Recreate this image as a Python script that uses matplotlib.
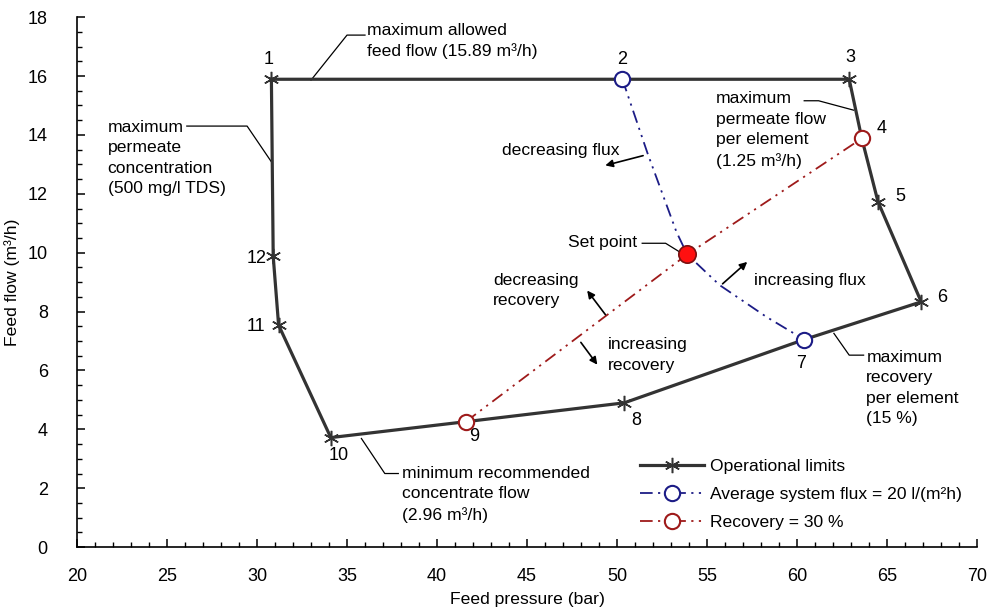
import matplotlib
matplotlib.use('Agg')
import matplotlib.pyplot as plt
from matplotlib.lines import Line2D
from matplotlib.ticker import MultipleLocator

plt.rcParams['font.family'] = ['Liberation Sans', 'DejaVu Sans']

# operational limits, points 1..12 (feed pressure in bar, feed flow in m3/h)
limit_p = [30.8, 50.3, 62.9, 63.6, 64.5, 66.9, 60.4, 50.4, 41.6, 34.1, 31.2, 30.9]
limit_q = [15.89, 15.89, 15.89, 13.88, 11.73, 8.33, 7.05, 4.90, 4.26, 3.72, 7.54, 9.88]
limit_names = ['1', '2', '3', '4', '5', '6', '7', '8', '9', '10', '11', '12']
star_idx = [0, 2, 4, 5, 7, 9, 10, 11]

# average system flux = 20 l/(m2h), from point 2 through set point to point 7
flux_p = [50.3, 51.7, 53.3, 53.9, 55.7, 58.3, 60.4]
flux_q = [15.89, 13.37, 10.71, 9.94, 8.90, 7.82, 7.05]

# recovery = 30 %, from point 9 through set point to point 4
rec_p = [41.6, 53.9, 63.6]
rec_q = [4.26, 9.94, 13.88]

set_p = 53.9
set_q = 9.94

# label offsets (points) for each numbered point
label_off = [(-2, 14), (0, 14), (1, 16), (14, 7), (16, 4), (15, 3),
             (-2, -17), (9, -13), (6, -11), (6, -13), (-16, -1), (-12, -2)]

dark = '#333333'
blue = '#1c1c86'
red = '#9e1a1a'
ddot = (0, (7, 3, 1.2, 3, 1.2, 3))

fig = plt.figure(figsize=(10, 6.12), dpi=100)
ax = fig.add_axes([0.077, 0.106, 0.9, 0.866])

# operational limits (closed polygon)
ax.plot(limit_p + limit_p[:1], limit_q + limit_q[:1], color=dark, lw=2.3, zorder=3,
        solid_joinstyle='round')
ax.plot([limit_p[i] for i in star_idx], [limit_q[i] for i in star_idx], ls='none',
        marker=(6, 2, 0), ms=11, mew=1.1, color=dark, zorder=4)

ax.plot(flux_p, flux_q, color=blue, lw=1.3, ls=ddot, zorder=2)
ax.plot([flux_p[0], flux_p[-1]], [flux_q[0], flux_q[-1]], ls='none', marker='o',
        ms=11, mew=1.5, mfc='white', mec=blue, zorder=5)

ax.plot(rec_p, rec_q, color=red, lw=1.3, ls=ddot, zorder=2)
ax.plot([rec_p[0], rec_p[-1]], [rec_q[0], rec_q[-1]], ls='none', marker='o',
        ms=11, mew=1.5, mfc='white', mec=red, zorder=5)

ax.plot([set_p], [set_q], ls='none', marker='o', ms=12.5, mfc='#ff1010', mec='#7a1010',
        mew=1.2, zorder=6)

for name, p, q, off in zip(limit_names, limit_p, limit_q, label_off):
    ax.annotate(name, (p, q), xytext=off, textcoords='offset points',
                ha='center', va='center', fontsize=13)

# leader lines with notes
fs = 12.6
ls_ = 1.45
lk = dict(color='black', lw=0.9, zorder=1)

ax.plot([33.0, 35.0, 36.0], [15.86, 17.39, 17.39], **lk)
ax.text(36.1, 17.19, 'maximum allowed\nfeed flow (15.89 m³/h)', fontsize=fs,
        va='center', linespacing=ls_)

ax.plot([26.1, 29.45, 30.85], [14.30, 14.30, 13.04], **lk)
ax.text(21.7, 13.21, 'maximum\npermeate\nconcentration\n(500 mg/l TDS)', fontsize=fs,
        va='center', linespacing=ls_)

ax.plot([60.4, 61.2, 63.15], [15.16, 15.16, 14.84], **lk)
ax.text(55.5, 14.16, 'maximum\npermeate flow\nper element\n(1.25 m³/h)', fontsize=fs,
        va='center', linespacing=ls_)

ax.plot([51.4, 52.7, 53.6], [10.32, 10.32, 9.98], **lk)
ax.text(51.1, 10.33, 'Set point', fontsize=fs, va='center', ha='right')

ax.plot([62.05, 62.9, 63.7], [7.26, 6.52, 6.52], **lk)
ax.text(63.85, 5.40, 'maximum\nrecovery\nper element\n(15 %)', fontsize=fs,
        va='center', linespacing=ls_)

ax.plot([35.8, 37.1, 37.85], [3.69, 2.50, 2.50], **lk)
ax.text(38.05, 1.80, 'minimum recommended\nconcentrate flow\n(2.96 m³/h)', fontsize=fs,
        va='center', linespacing=ls_)

# direction arrows
ak = dict(arrowstyle='-|>', color='black', lw=1.2, mutation_scale=11)
ax.annotate('', xy=(49.2, 12.94), xytext=(51.6, 13.32), arrowprops=ak)
ax.text(43.6, 13.46, 'decreasing flux', fontsize=fs, va='center')

ax.annotate('', xy=(57.35, 9.75), xytext=(55.75, 8.88), arrowprops=ak)
ax.text(57.6, 9.04, 'increasing flux', fontsize=fs, va='center')

ax.annotate('', xy=(48.25, 8.79), xytext=(49.45, 7.82), arrowprops=ak)
ax.text(43.1, 8.72, 'decreasing\nrecovery', fontsize=fs, va='center', linespacing=ls_)

ax.annotate('', xy=(49.0, 6.12), xytext=(47.9, 7.03), arrowprops=ak)
ax.text(49.5, 6.52, 'increasing\nrecovery', fontsize=fs, va='center', linespacing=ls_)

# axes
ax.set_xlim(20, 70)
ax.set_ylim(0, 18)
ax.xaxis.set_major_locator(MultipleLocator(5))
ax.xaxis.set_minor_locator(MultipleLocator(1))
ax.yaxis.set_major_locator(MultipleLocator(2))
ax.yaxis.set_minor_locator(MultipleLocator(0.5))
ax.tick_params(which='major', direction='in', length=6, width=1.1, labelsize=13)
ax.tick_params(axis='x', which='major', pad=15)
ax.tick_params(axis='y', which='major', pad=21)
ax.tick_params(which='minor', direction='in', length=3.5, width=1.0)
for s in ['top', 'right']:
    ax.spines[s].set_visible(False)
for s in ['left', 'bottom']:
    ax.spines[s].set_linewidth(1.2)

ax.set_xlabel('Feed pressure (bar)', fontsize=12.6)
ax.set_ylabel('Feed flow (m³/h)', fontsize=12.6)
ax.xaxis.set_label_coords(0.5, -0.085)
ax.yaxis.set_label_coords(-0.063, 0.5)

handles = [
    Line2D([], [], color=dark, lw=2.3, marker=(6, 2, 0), ms=11, mew=1.1),
    Line2D([], [], color=blue, lw=1.3, ls=ddot, marker='o', ms=11, mew=1.5,
           mfc='white', mec=blue),
    Line2D([], [], color=red, lw=1.3, ls=ddot, marker='o', ms=11, mew=1.5,
           mfc='white', mec=red),
]
labels = ['Operational limits', 'Average system flux = 20 l/(m²h)', 'Recovery = 30 %']
ax.legend(handles, labels, loc='upper left', bbox_to_anchor=(0.625, 0.166),
          frameon=False, fontsize=12.6, handlelength=3.7, handletextpad=0.3,
          labelspacing=0.72, borderpad=0, borderaxespad=0, numpoints=1)

fig.savefig('out.png', dpi=100)
